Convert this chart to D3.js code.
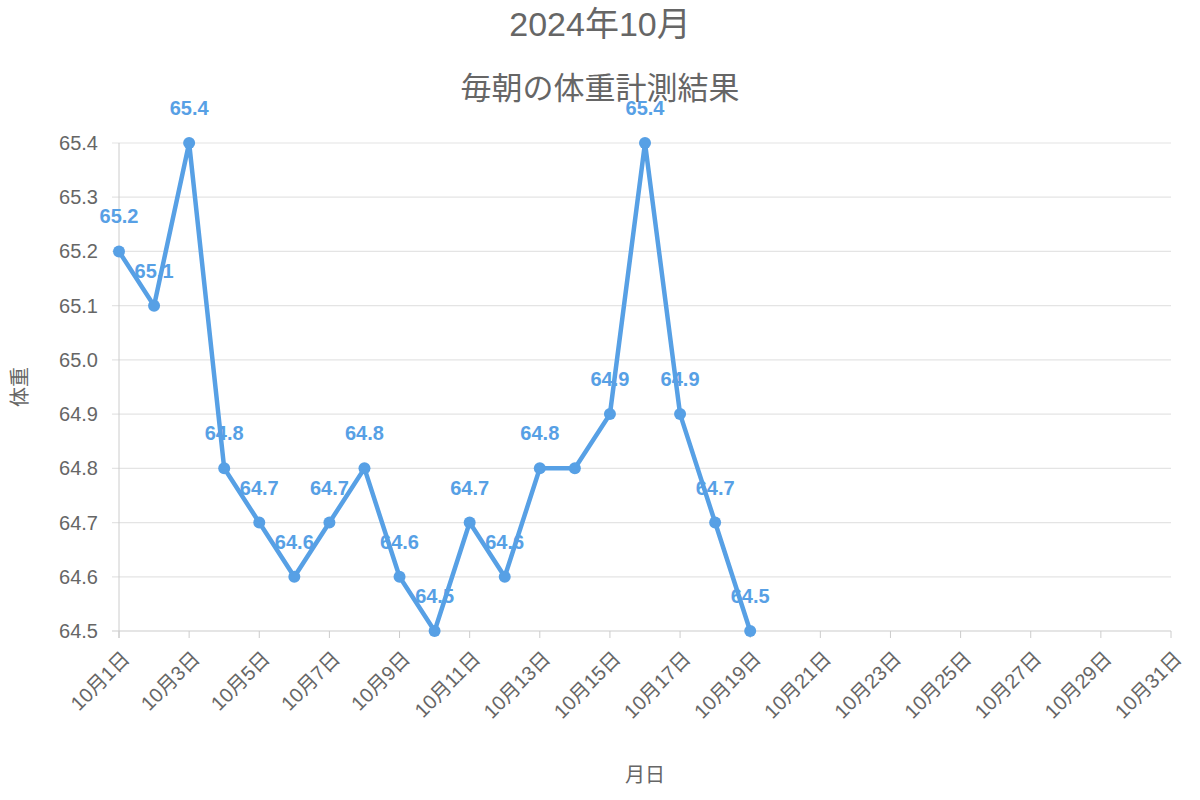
<!DOCTYPE html>
<html><head><meta charset="utf-8">
<script src="https://cdn.jsdelivr.net/npm/d3@7"></script>
<style>body{margin:0;background:#fff}text{font-family:"Liberation Sans","Noto Sans CJK JP",sans-serif}</style>
</head><body><svg id="c" width="1200" height="800"></svg>
<script>
const days = d3.range(1, 32);
const weights = [65.2,65.1,65.4,64.8,64.7,64.6,64.7,64.8,64.6,64.5,64.7,64.6,64.8,64.8,64.9,65.4,64.9,64.7,64.5];
const hiddenLabelDays = [14];
const yTicks = [64.5,64.6,64.7,64.8,64.9,65.0,65.1,65.2,65.3,65.4];
const xTickDays = d3.range(1, 32, 2);
const color = "#57a0e5";

const svg = d3.select("#c");
const x = d3.scaleLinear().domain([1,31]).range([119,1171]);
const y = d3.scaleLinear().domain([64.5,65.4]).range([631,143]);

svg.append("g").selectAll("line").data(yTicks).join("line")
  .attr("x1",112).attr("x2",1171).attr("y1",d=>y(d)).attr("y2",d=>y(d))
  .attr("stroke",d=>d===64.5?"#ccc":"#e4e4e4").attr("stroke-width",1.2);
svg.append("line").attr("x1",119).attr("x2",119).attr("y1",143).attr("y2",638).attr("stroke","#ccc");
svg.append("g").selectAll("line").data(xTickDays).join("line")
  .attr("x1",d=>x(d)).attr("x2",d=>x(d)).attr("y1",631).attr("y2",638).attr("stroke","#ccc");

svg.append("g").selectAll("text").data(yTicks).join("text")
  .attr("x",98).attr("y",d=>y(d)).attr("dy","0.35em").attr("text-anchor","end")
  .attr("font-size",20).attr("fill","#666").text(d=>d.toFixed(1));

svg.append("g").selectAll("text").data(xTickDays).join("text")
  .attr("transform",d=>`translate(${x(d)+7},${655}) rotate(-45)`)
  .attr("text-anchor","end").attr("dy","0.35em").attr("font-size",20).attr("fill","#666")
  .text(d=>`10月${d}日`);

const line = d3.line().x((d,i)=>x(days[i])).y(d=>y(d));
svg.append("path").datum(weights).attr("d",line).attr("fill","none")
  .attr("stroke",color).attr("stroke-width",4.5);
svg.append("g").selectAll("circle").data(weights).join("circle")
  .attr("cx",(d,i)=>x(days[i])).attr("cy",d=>y(d)).attr("r",6).attr("fill",color);
svg.append("g").selectAll("text").data(weights.map((v,i)=>({v,day:days[i]})).filter(d=>!hiddenLabelDays.includes(d.day))).join("text")
  .attr("x",d=>x(d.day)).attr("y",d=>y(d.v)-35).attr("dy","0.35em").attr("text-anchor","middle")
  .attr("font-size",20).attr("font-weight","bold").attr("fill",color).text(d=>d.v.toFixed(1));

svg.append("text").attr("x",600).attr("y",24).attr("dy","0.35em").attr("text-anchor","middle")
  .attr("font-size",34).attr("fill","#666").text("2024年10月");
svg.append("text").attr("x",600).attr("y",88).attr("dy","0.35em").attr("text-anchor","middle")
  .attr("font-size",31).attr("fill","#666").text("毎朝の体重計測結果");
svg.append("text").attr("transform","translate(20,387) rotate(-90)").attr("dy","0.35em")
  .attr("text-anchor","middle").attr("font-size",20).attr("fill","#666").text("体重");
svg.append("text").attr("x",645).attr("y",775).attr("dy","0.35em").attr("text-anchor","middle")
  .attr("font-size",20).attr("fill","#666").text("月日");
</script></body></html>
